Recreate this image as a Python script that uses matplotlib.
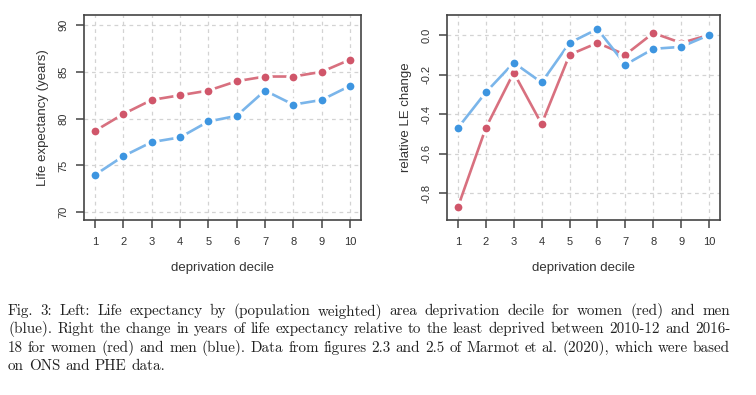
import matplotlib
matplotlib.use("Agg")
import matplotlib.pyplot as plt

deciles = [1, 2, 3, 4, 5, 6, 7, 8, 9, 10]
le_women = [78.7, 80.5, 82.0, 82.5, 83.0, 84.0, 84.5, 84.5, 85.0, 86.3]
le_men = [74.0, 76.0, 77.5, 78.0, 79.7, 80.3, 83.0, 81.5, 82.0, 83.5]
chg_women = [-0.87, -0.47, -0.19, -0.45, -0.10, -0.04, -0.10, 0.01, -0.04, 0.0]
chg_men = [-0.47, -0.29, -0.14, -0.24, -0.04, 0.03, -0.15, -0.07, -0.06, 0.0]
left_yticks = [70, 75, 80, 85, 90]
right_yticks = [0.0, -0.2, -0.4, -0.6, -0.8]

caption_lines = [
    "Fig. 3: Left: Life expectancy by (population weighted) area deprivation decile for women (red) and men",
    "(blue). Right the change in years of life expectancy relative to the least deprived between 2010-12 and 2016-",
    "18 for women (red) and men (blue). Data from figures 2.3 and 2.5 of Marmot et al. (2020), which were based",
    "on ONS and PHE data.",
]

RED_PT, RED_LN = "#D0566A", "#D8707F"
BLUE_PT, BLUE_LN = "#3D95E0", "#7AB5EA"
TXT = "#333333"

plt.rcParams["font.family"] = ["Liberation Sans", "DejaVu Sans"]

fig = plt.figure(figsize=(7.56, 3.95), dpi=100)
ax1 = fig.add_axes([84/756, 1-220/395, 277/756, 205/395])
ax2 = fig.add_axes([447/756, 1-220/395, 273/756, 205/395])

def style(ax, yticks, fmt, ylim, ylabel):
    ax.set_xlim(0.61, 10.39)
    ax.set_ylim(*ylim)
    ax.set_xticks(deciles)
    ax.set_yticks(yticks)
    ax.set_yticklabels([fmt(v) for v in yticks], rotation=90, va="center")
    ax.tick_params(axis="both", direction="out", length=6, width=1.1,
                   color="#444444", labelsize=8, labelcolor=TXT)
    ax.tick_params(axis="x", pad=6)
    ax.tick_params(axis="y", pad=5)
    ax.grid(True, color="#d3d3d3", linestyle=(0, (3, 3)), linewidth=0.9)
    ax.set_axisbelow(True)
    for s in ax.spines.values():
        s.set_color("#444444")
        s.set_linewidth(1.2)
    ax.set_xlabel("deprivation decile", fontsize=9.5, color=TXT, labelpad=11)
    ax.set_ylabel(ylabel, fontsize=9.5, color=TXT, labelpad=7)

def series(ax, y, ln, pt):
    ax.plot(deciles, y, color=ln, lw=1.9, zorder=2)
    ax.plot(deciles, y, linestyle="none", marker="o", markersize=8,
            markerfacecolor=pt, markeredgecolor="white", markeredgewidth=2.4, zorder=3)

series(ax1, le_women, RED_LN, RED_PT)
series(ax1, le_men, BLUE_LN, BLUE_PT)
style(ax1, left_yticks, lambda v: f"{v:d}", (69.18, 91.07), "Life expectancy (years)")

series(ax2, chg_women, RED_LN, RED_PT)
series(ax2, chg_men, BLUE_LN, BLUE_PT)
style(ax2, right_yticks, lambda v: f"{v:.1f}", (-0.935, 0.101), "relative LE change")

# justified caption
renderer = fig.canvas.get_renderer()
x_left, x_right = 8, 730
fs = 10.9
y0 = 315
for i, line in enumerate(caption_lines):
    yy = 1 - (y0 + i*18.4)/395
    words = line.split(" ")
    last = (i == len(caption_lines) - 1)
    texts = [fig.text(0, yy, w, family="cmr10", fontsize=fs, color="#222222",
                      ha="left", va="baseline") for w in words]
    widths = [t.get_window_extent(renderer).width for t in texts]
    if last:
        sp = fig.text(0, 0, "a b", family="cmr10", fontsize=fs)
        sp2 = fig.text(0, 0, "ab", family="cmr10", fontsize=fs)
        gap = sp.get_window_extent(renderer).width - sp2.get_window_extent(renderer).width
        sp.remove(); sp2.remove()
    else:
        gap = (x_right - x_left - sum(widths)) / (len(words) - 1)
    x = x_left
    for t, w in zip(texts, widths):
        t.set_x(x/756)
        x += w + gap

fig.savefig("out.png", dpi=100)
